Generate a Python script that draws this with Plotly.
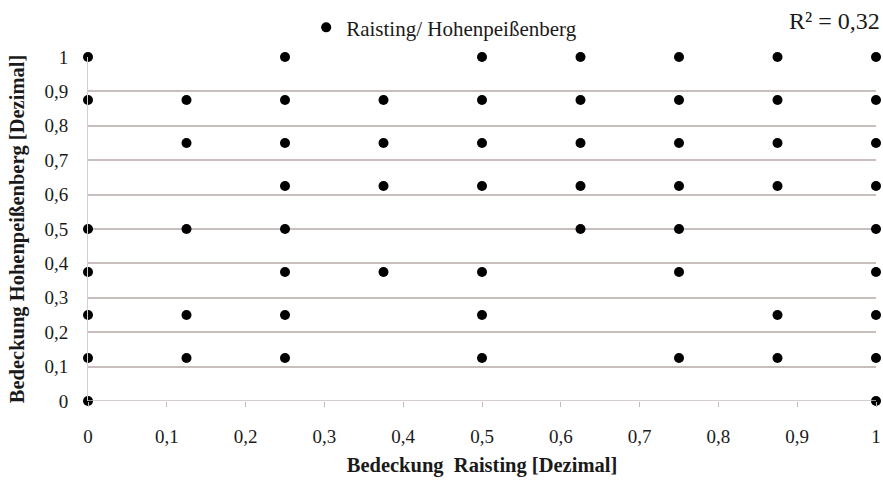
import plotly.graph_objects as go

# Data: Bedeckung Raisting (x) vs Hohenpeißenberg (y), eighths
x_vals = [0, 0, 0, 0, 0, 0, 0,
          0.125, 0.125, 0.125, 0.125, 0.125,
          0.25, 0.25, 0.25, 0.25, 0.25, 0.25, 0.25, 0.25,
          0.375, 0.375, 0.375, 0.375,
          0.5, 0.5, 0.5, 0.5, 0.5, 0.5, 0.5,
          0.625, 0.625, 0.625, 0.625, 0.625,
          0.75, 0.75, 0.75, 0.75, 0.75, 0.75, 0.75,
          0.875, 0.875, 0.875, 0.875, 0.875, 0.875,
          1, 1, 1, 1, 1, 1, 1, 1, 1]
y_vals = [1, 0.875, 0.5, 0.375, 0.25, 0.125, 0,
          0.875, 0.75, 0.5, 0.25, 0.125,
          1, 0.875, 0.75, 0.625, 0.5, 0.375, 0.25, 0.125,
          0.875, 0.75, 0.625, 0.375,
          1, 0.875, 0.75, 0.625, 0.375, 0.25, 0.125,
          1, 0.875, 0.75, 0.625, 0.5,
          1, 0.875, 0.75, 0.625, 0.5, 0.375, 0.125,
          1, 0.875, 0.75, 0.625, 0.25, 0.125,
          1, 0.875, 0.75, 0.625, 0.5, 0.375, 0.25, 0.125, 0]
series_name = "Raisting/ Hohenpeißenberg"
r2_text = "R² = 0,32"
x_title = "Bedeckung  Raisting [Dezimal]"
y_title = "Bedeckung Hohenpeißenberg [Dezimal]"

font_family = "Liberation Serif, DejaVu Serif, serif"
grid_col = "#c8bebb"

fig = go.Figure()
fig.add_trace(go.Scatter(
    x=x_vals, y=y_vals, mode="markers", name=series_name,
    marker=dict(color="black", size=10),
    cliponaxis=False,
))

fig.update_layout(
    width=883, height=480,
    margin=dict(l=88, r=7, t=57, b=79, autoexpand=False),
    paper_bgcolor="white", plot_bgcolor="white",
    separators=",.",
    font=dict(family=font_family, size=19, color="#1a1a1a"),
    showlegend=True,
    legend=dict(orientation="h", x=0.452, xanchor="center", y=0.985, yanchor="top",
                yref="container", font=dict(size=21), itemsizing="trace",
                itemwidth=30, bgcolor="rgba(0,0,0,0)"),
    xaxis=dict(range=[0, 1], dtick=0.1, tick0=0, showgrid=False, zeroline=False,
               showline=False, ticks="outside", ticklen=5, tickcolor="#bbbbbb",
               automargin=False,
               ticklabelstandoff=13, tickfont=dict(size=19),
               title=dict(text="<b>" + x_title + "</b>", font=dict(size=20.5), standoff=11)),
    yaxis=dict(range=[0, 1], dtick=0.1, tick0=0, showgrid=True, gridcolor=grid_col,
               gridwidth=1.5, zeroline=False, showline=True, linecolor="#cfcfcf",
               linewidth=1, ticks="", ticklabelstandoff=15, tickfont=dict(size=19),
               automargin=False,
               title=dict(text="<b>" + y_title + "</b>", font=dict(size=20.5), standoff=14)),
)

# x-axis baseline (grid at 0)
fig.add_hline(y=0, line_color=grid_col, line_width=1.5)

fig.add_annotation(text=r2_text, xref="paper", yref="paper", x=1.0, y=1.0,
                   xshift=6, yshift=36, xanchor="right", yanchor="middle",
                   showarrow=False, font=dict(size=24, color="#1a1a1a"))

# remove the default page margin so the 883x480 figure fills the window exactly
fig.write_html("out.html", config={"displayModeBar": False},
               post_script="document.body.style.margin='0';")
